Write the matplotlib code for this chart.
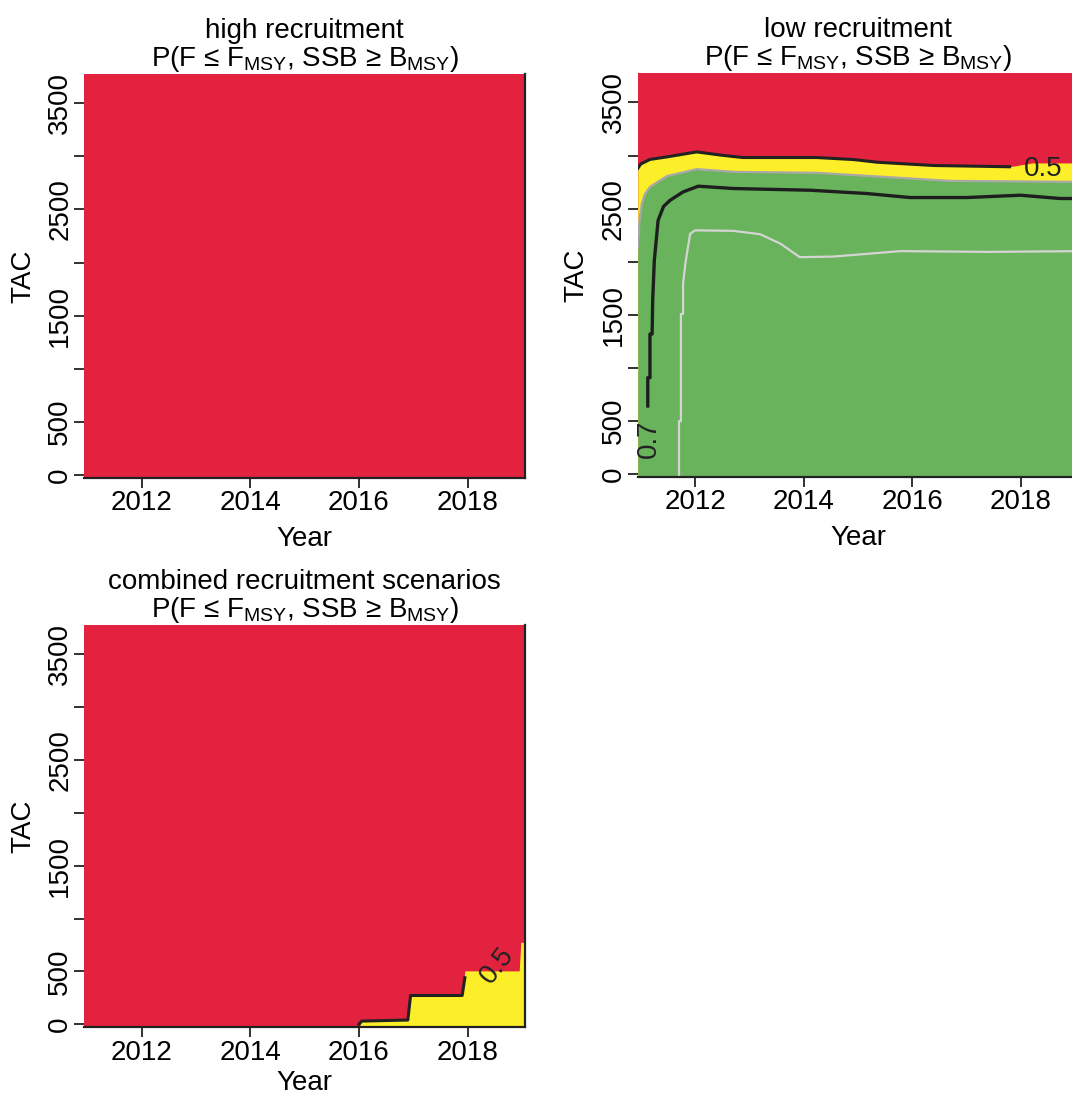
import matplotlib
matplotlib.use('Agg')
import matplotlib.pyplot as plt

plt.rcParams['font.family'] = ['Liberation Sans', 'DejaVu Sans']
plt.rcParams['mathtext.default'] = 'regular'
plt.rcParams['font.size'] = 20

RED = '#E3223F'
YELLOW = '#FDEE2A'
GREEN = '#69B35C'

year_lim = (2010.945, 2019.06)
tac_lim = (-26, 3776)
year_ticks = [2012, 2014, 2016, 2018]
tac_ticks = [0, 500, 1000, 1500, 2000, 2500, 3000, 3500]
tac_labels = ['0', '500', '', '1500', '', '2500', '', '3500']

prob_title = 'P(F ≤ F$_{MSY}$, SSB ≥ B$_{MSY}$)'

# low recruitment: TAC where P crosses 0.5 (red/yellow)
low_x05 = [2010.945, 2011.0, 2011.17, 2011.48, 2012.03, 2012.49, 2012.88, 2014.24,
           2014.92, 2015.35, 2016.39, 2017.1, 2017.79, 2018.2, 2019.06]
low_y05 = [2878, 2920, 2963, 2987, 3034, 3003, 2981, 2981,
           2962, 2937, 2906, 2900, 2894, 2930, 2930]
# low recruitment: yellow/green boundary (grey line)
low_x06 = [2010.945, 2010.98, 2011.02, 2011.08, 2011.17, 2011.48, 2012.03, 2012.71,
           2014.24, 2015.47, 2016.70, 2018.94, 2019.06]
low_y06 = [2137, 2400, 2547, 2640, 2704, 2806, 2872, 2846,
           2837, 2799, 2761, 2752, 2752]
# low recruitment: 0.7 contour
low_x07 = [2011.13, 2011.13, 2011.17, 2011.17, 2011.21, 2011.22, 2011.25, 2011.32,
           2011.42, 2011.54, 2011.78, 2012.06, 2012.71, 2014.12, 2015.16, 2015.96,
           2017.0, 2017.99, 2018.72, 2019.06]
low_y07 = [640, 907, 907, 1318, 1318, 1633, 2010, 2389,
           2520, 2578, 2657, 2711, 2689, 2673, 2642, 2604,
           2604, 2626, 2595, 2595]
# low recruitment: inner light grey contour
low_x08 = [2011.705, 2011.705, 2011.74, 2011.74, 2011.78, 2011.78, 2011.83, 2011.91,
           2012.0, 2012.71, 2013.2, 2013.57, 2013.93, 2014.55, 2015.78, 2017.43, 2019.06]
low_y08 = [-26, 497, 497, 1507, 1507, 1800, 2010, 2262,
           2295, 2290, 2258, 2170, 2042, 2048, 2099, 2092, 2099]

# combined scenarios: yellow area below 0.5 contour
comb_x05 = [2016.0, 2016.05, 2016.9, 2016.95, 2017.9, 2017.95, 2018.95, 2018.98, 2019.06]
comb_y05 = [-26, 30, 40, 272, 272, 505, 505, 775, 775]
comb_line_x = [2016.0, 2016.05, 2016.9, 2016.95, 2017.9, 2017.95]
comb_line_y = [0, 30, 40, 272, 272, 440]


def setup(ax, name, xpad=7):
    ax.fill_between(year_lim, tac_lim[0], tac_lim[1], color=RED, lw=0)
    ax.set_xlim(year_lim)
    ax.set_ylim(tac_lim)
    ax.set_xticks(year_ticks)
    ax.set_yticks(tac_ticks)
    ax.set_yticklabels(tac_labels, rotation=90, va='center')
    ax.tick_params(direction='out', length=7, width=1.3, color='#222222', pad=2)
    ax.tick_params(axis='y', pad=1)
    for s in ['top', 'left']:
        ax.spines[s].set_visible(False)
    for s in ['right', 'bottom']:
        ax.spines[s].set_linewidth(1.6)
        ax.spines[s].set_color('#222222')
        ax.spines[s].set_zorder(5)
    ax.set_title(name + '\n' + prob_title, fontsize=20, pad=4, linespacing=1.0)
    ax.set_xlabel('Year', labelpad=xpad)
    ax.set_ylabel('TAC', labelpad=8)


fig = plt.figure(figsize=(10.72, 10.97), dpi=100)

ax1 = fig.add_axes([0.0787, 0.5647, 0.4112, 0.3678])
setup(ax1, 'high recruitment')

ax2 = fig.add_axes([0.5949, 0.5655, 0.4112, 0.3678])
setup(ax2, 'low recruitment')
ax2.fill_between(low_x05, tac_lim[0], low_y05, color=YELLOW, lw=0)
ax2.fill_between(low_x06, tac_lim[0], low_y06, color=GREEN, lw=0)
ax2.plot(low_x05[:13], low_y05[:13], color='#222222', lw=2.2)
ax2.plot(low_x06, low_y06, color='#A8A8A8', lw=1.6)
ax2.plot(low_x07, low_y07, color='#1E1E1E', lw=2.4)
ax2.plot(low_x08, low_y08, color='#D4D4D4', lw=1.6)
ax2.text(2018.4, 2870, '0.5', ha='center', va='center', fontsize=20, color='#222222')
ax2.text(2011.15, 330, '0.7', ha='center', va='center', rotation=90, fontsize=20,
         color='#222222')

ax3 = fig.add_axes([0.0787, 0.0638, 0.4112, 0.3665])
setup(ax3, 'combined recruitment scenarios', xpad=3)
ax3.fill_between(comb_x05, tac_lim[0], comb_y05, color=YELLOW, lw=0)
ax3.plot(comb_line_x, comb_line_y, color='#222222', lw=2.2)
ax3.text(2018.55, 560, '0.5', ha='center', va='center', rotation=52, fontsize=20,
         color='#222222')

fig.savefig('out.png', dpi=100)
